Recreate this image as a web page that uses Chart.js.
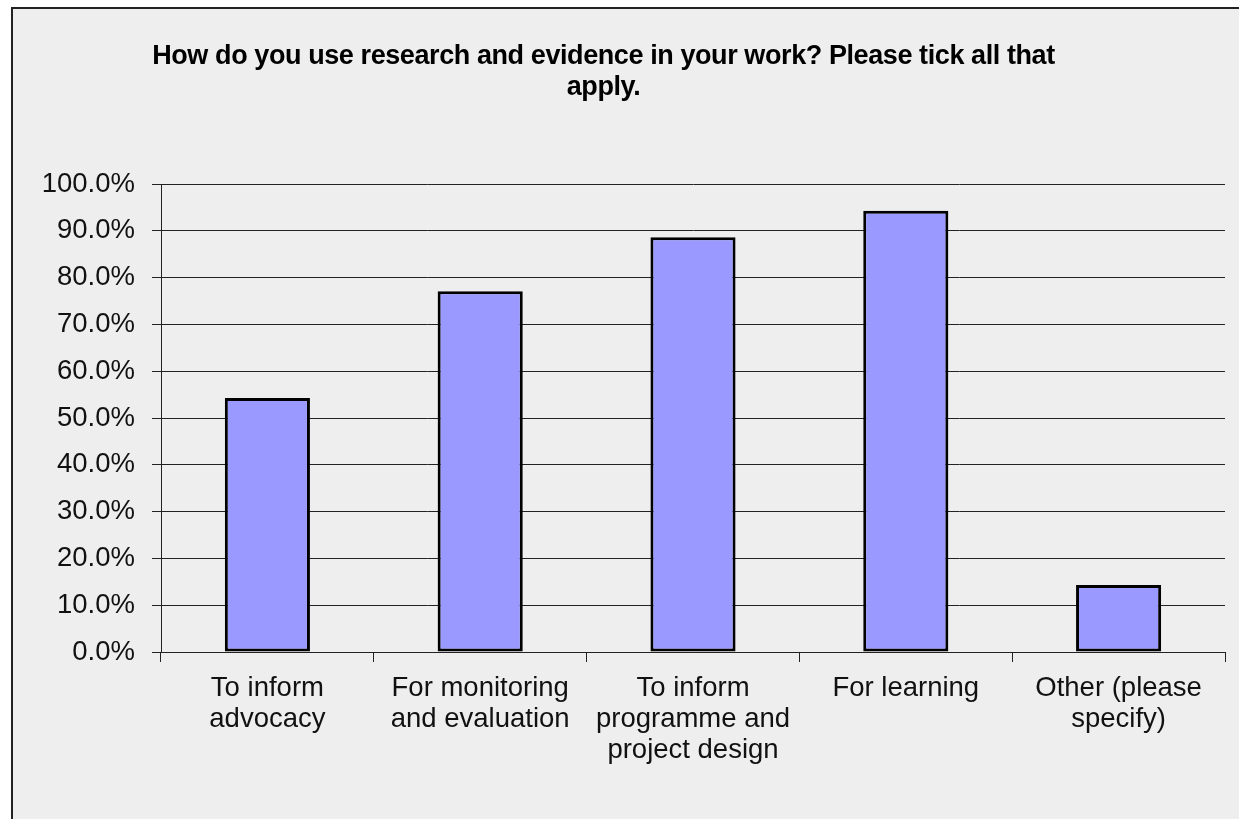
<!DOCTYPE html>
<html>
<head>
<meta charset="utf-8">
<script src="https://cdn.jsdelivr.net/npm/chart.js@4.4.1/dist/chart.umd.min.js"></script>
<style>
  html, body { margin: 0; padding: 0; background: #fff; overflow: hidden; }
  #frame {
    position: absolute; left: 11px; top: 7px; width: 1240px; height: 820px;
    border-left: 2px solid #222; border-top: 2px solid #222; background: #eeeeee;
  }
  #chart { position: absolute; left: 0; top: 0; }
</style>
</head>
<body>
<div id="frame"></div>
<canvas id="chart" width="1239" height="819"></canvas>
<script>
var titleLines = ['How do you use research and evidence in your work? Please tick all that', 'apply.'];
var categories = [
    ['To inform', 'advocacy'],
    ['For monitoring', 'and evaluation'],
    ['To inform', 'programme and', 'project design'],
    ['For learning'],
    ['Other (please', 'specify)']
];
var percentages = [54.3, 77.1, 88.6, 94.3, 14.3];
var yMin = 0;
var yMax = 100;
var yStep = 10;

var FONT = '"Liberation Sans", Arial, sans-serif';

// excel-style title: bold, tightly spaced, centred over the whole chart object
var titlePlugin = {
    id: 'sheetTitle',
    afterDraw: function(chart) {
        var ctx = chart.ctx;
        ctx.save();
        ctx.font = 'bold 27px ' + FONT;
        ctx.fillStyle = '#000';
        ctx.textAlign = 'left';
        ctx.textBaseline = 'alphabetic';
        var natural = ctx.measureText(titleLines[0]).width;
        if ('letterSpacing' in ctx) {
            ctx.letterSpacing = ((903 - natural) / (titleLines[0].length - 1)) + 'px';
        }
        var baselines = [64, 95];
        for (var i = 0; i < titleLines.length; i++) {
            var w = ctx.measureText(titleLines[i]).width;
            ctx.fillText(titleLines[i], 603.5 - w / 2, baselines[i]);
        }
        ctx.restore();
    }
};

var ctx = document.getElementById('chart');

var myChart = new Chart(ctx, {
    type: 'bar',
    data: {
        labels: categories,
        datasets: [{
            label: 'Response percent',
            data: percentages,
            backgroundColor: '#9999ff',
            borderColor: '#000',
            borderWidth: 3,
            borderSkipped: false,
            barPercentage: 0.4,
            categoryPercentage: 1.0
        }]
    },
    options: {
        responsive: false,
        animation: false,
        layout: {
            padding: { left: 0, right: 14, top: 184, bottom: 0 }
        },
        plugins: {
            legend: { display: false },
            title: { display: false },
            tooltip: { enabled: false }
        },
        scales: {
            x: {
                offset: true,
                afterFit: function(scale) { scale.height = 819 - 652; },
                grid: {
                    offset: true,
                    drawOnChartArea: false,
                    drawTicks: true,
                    tickLength: 10,
                    tickColor: '#222',
                    lineWidth: 1
                },
                border: { color: '#222', width: 1 },
                ticks: {
                    autoSkip: false,
                    maxRotation: 0,
                    minRotation: 0,
                    padding: 11,
                    color: '#111',
                    font: { family: FONT, size: 27.5, lineHeight: 1.127 }
                }
            },
            y: {
                min: yMin,
                max: yMax,
                afterFit: function(scale) { scale.width = 161; },
                grid: {
                    color: '#222',
                    lineWidth: 1,
                    drawTicks: true,
                    tickLength: 9,
                    tickColor: '#222'
                },
                border: { color: '#222', width: 1 },
                ticks: {
                    stepSize: yStep,
                    padding: 17,
                    color: '#111',
                    font: { family: FONT, size: 27.5 },
                    callback: function(v) { return v.toFixed(1) + '%'; }
                }
            }
        }
    },
    plugins: [titlePlugin]
});
</script>
</body>
</html>
